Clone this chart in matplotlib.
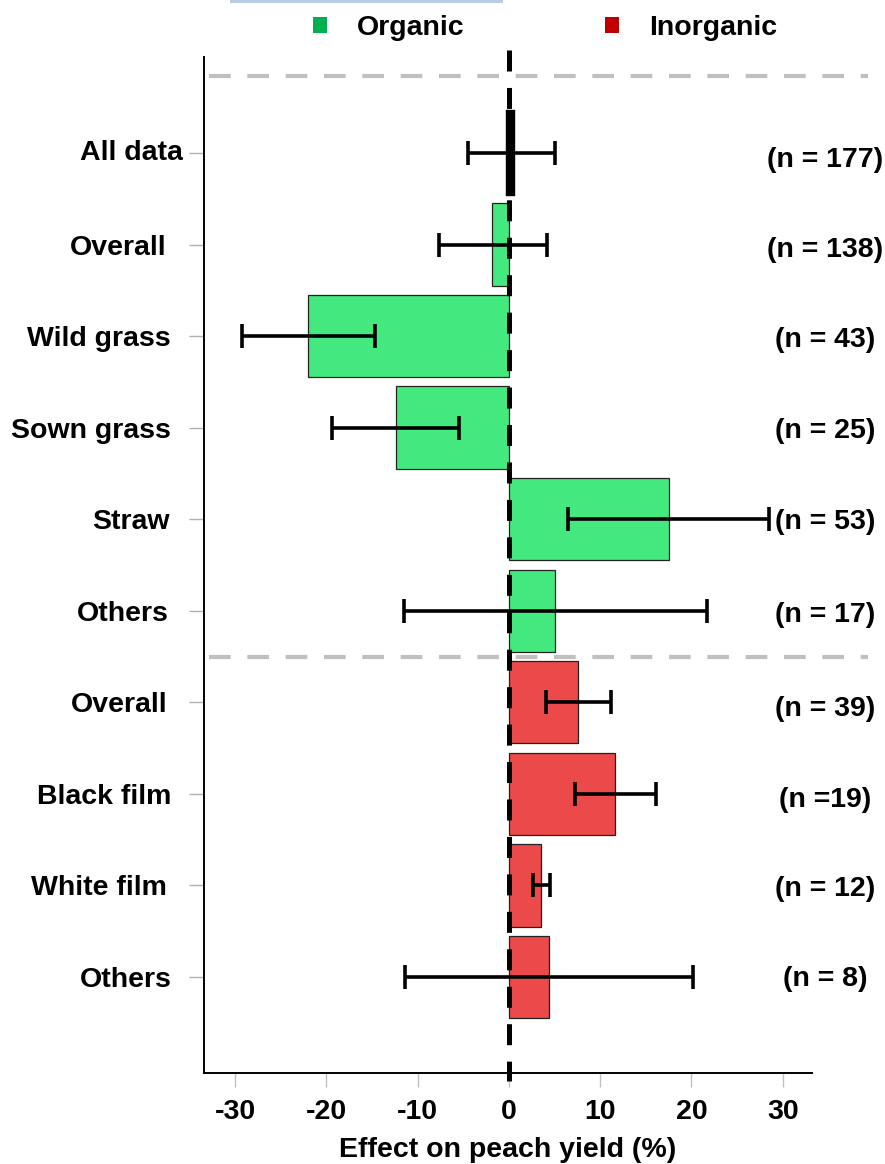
import matplotlib
matplotlib.use("Agg")
import matplotlib.pyplot as plt
import matplotlib.transforms as mtransforms
from matplotlib.patches import Patch, Rectangle
import numpy as np

plt.rcParams['font.family'] = ['Liberation Sans', 'DejaVu Sans']
plt.rcParams['font.weight'] = 'bold'

# ---------------- data ----------------
categories = ["All data", "Overall", "Wild grass", "Sown grass", "Straw", "Others",
              "Overall", "Black film", "White film", "Others"]
groups = ["All", "Organic", "Organic", "Organic", "Organic", "Organic",
          "Inorganic", "Inorganic", "Inorganic", "Inorganic"]
effect = [0.35, -1.8, -22.0, -12.4, 17.5, 5.1, 7.6, 11.6, 3.5, 4.4]
ci_low = [-4.5, -7.7, -29.2, -19.4, 6.5, -11.5, 4.1, 7.2, 2.6, -11.4]
ci_high = [5.1, 4.2, -14.7, -5.5, 28.5, 21.7, 11.2, 16.1, 4.5, 20.2]
n_labels = ["(n = 177)", "(n = 138)", "(n = 43)", "(n = 25)", "(n = 53)", "(n = 17)",
            "(n = 39)", "(n =19)", "(n = 12)", "(n = 8)"]
xticks = [-30, -20, -10, 0, 10, 20, 30]
legend_labels = ["Organic", "Inorganic"]

# ---------------- style ----------------
bar_colors = {"All": "black", "Organic": "#43e97e", "Inorganic": "#ec4a4a"}
legend_colors = ["#00b050", "#c00000"]
label_shift_px = [0, -17, -13, -12, -13, -14, -16, -12, -16, -11]
label_dy_px = [-3, 0, 0, 0, 0, 0, 0, 0, 0, 0]
n_dy_px = [7, 5, 4, 3, 3, 4, 7, 6, 4, 2]

W, H, DPI = 885, 1164, 100
fig = plt.figure(figsize=(W / DPI, H / DPI), dpi=DPI)
ax = fig.add_axes([204 / W, 1 - 1073 / H, (812 - 204) / W, (1073 - 50) / H])

y = np.arange(len(categories))
eff = np.array(effect)
lo = np.array(ci_low)
hi = np.array(ci_high)

for i in range(len(categories)):
    g = groups[i]
    if g == "All":
        ax.barh(y[i], eff[i], height=0.88, color="black", edgecolor="black",
                linewidth=4.6, zorder=3)
    else:
        ax.barh(y[i], eff[i], height=0.9, color=bar_colors[g], edgecolor="#222222",
                linewidth=0.9, zorder=2)

ax.errorbar(eff, y, xerr=[eff - lo, hi - eff], fmt="none", ecolor="black",
            elinewidth=2.6, capsize=8.5, capthick=2.6, zorder=5)

# dashed separators
for yy in [-0.84, 5.5]:
    ax.plot([-32.8, 39.3], [yy, yy], color="#c0c0c0", lw=3.0,
            dashes=(5.2, 4.0), clip_on=False, zorder=1)

# zero line
ax.plot([0, 0], [-1.126, 10.14], color="black", lw=3.6, dashes=(4.2, 3.29),
        clip_on=False, zorder=6)

# n labels
for i, t in enumerate(n_labels):
    tr = ax.transData + mtransforms.ScaledTranslation(0, -n_dy_px[i] / DPI,
                                                      fig.dpi_scale_trans)
    ax.text(34.6, y[i], t, ha="center", va="center", fontsize=20.5,
            fontweight="bold", clip_on=False, transform=tr)

ax.set_xlim(-33.4, 33.2)
ax.set_ylim(10.05, -1.126)
ax.set_yticks(y)
ax.set_yticklabels(categories, fontsize=20.5, fontweight="bold")
ax.set_xticks(xticks)
ax.set_xticklabels([str(v) for v in xticks], fontsize=20.5, fontweight="bold")
ax.tick_params(axis="y", length=10.5, width=1.0, color="#b0b0b0", pad=4.5)
ax.tick_params(axis="x", length=10, width=1.0, color="#c0c0c0", pad=8.5)

for lab, dx, dy in zip(ax.get_yticklabels(), label_shift_px, label_dy_px):
    lab.set_transform(lab.get_transform() +
                      mtransforms.ScaledTranslation(dx / DPI, -dy / DPI, fig.dpi_scale_trans))

for s in ["top", "right"]:
    ax.spines[s].set_visible(False)
ax.spines["left"].set_bounds(10.05, -1.05)
ax.spines["left"].set_linewidth(1.4)
ax.spines["bottom"].set_linewidth(1.4)

ax.set_xlabel("Effect on peach yield (%)", fontsize=20.5, fontweight="bold", labelpad=9)

# legend
handles = [Patch(facecolor=c, edgecolor="none") for c in legend_colors]
fig.legend(handles, legend_labels, loc="center", bbox_to_anchor=(545 / W, 1 - 28 / H),
           ncol=2, frameon=False, handlelength=0.5, handleheight=0.5,
           handletextpad=1.05, columnspacing=4.9, prop={"weight": "bold", "size": 20.5})

# thin light-blue strip at top
fig.patches.append(Rectangle((230 / W, 1 - 3 / H), (503 - 230) / W, 3 / H,
                             transform=fig.transFigure, facecolor="#b8cce4",
                             edgecolor="none"))

fig.savefig("out.png", dpi=DPI)
